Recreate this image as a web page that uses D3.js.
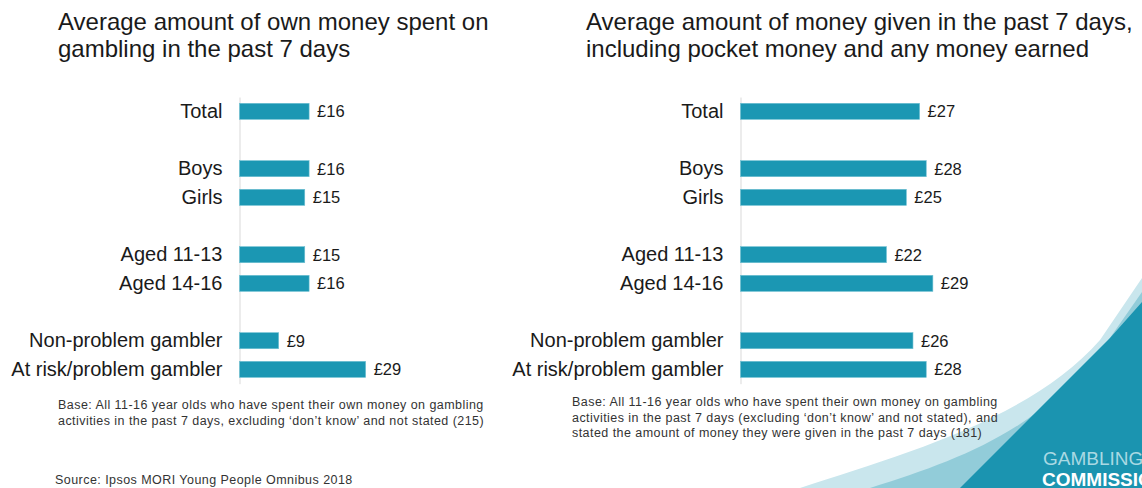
<!DOCTYPE html>
<html lang="en">
<head>
  <meta charset="UTF-8">
  <title>Gambling spend</title>
  <script src="https://d3js.org/d3.v7.min.js"></script>
  <style>
    body { margin: 0; background: #fff; font-family: "Liberation Sans", Arial, sans-serif; }
    svg { display: block; }
    .title { font-size: 24px; fill: #1a1a1a; }
    .note { font-size: 12.5px; fill: #333; letter-spacing: 0.45px; }
    .axis text { font-size: 20px; fill: #1a1a1a; font-family: "Liberation Sans", Arial, sans-serif; }
    .axis path { stroke: #d9d9d9; }
    .val { font-size: 16.5px; fill: #1a1a1a; }
  </style>
</head>
<body>
<svg width="1142" height="488"></svg>

<script>
  // slots: "" entries are empty gaps between groups
  const slots = ["Total", "", "Boys", "Girls", "", "Aged 11-13", "Aged 14-16", "", "Non-problem gambler", "At risk/problem gambler"];
  const categories = ["Total", "Boys", "Girls", "Aged 11-13", "Aged 14-16", "Non-problem gambler", "At risk/problem gambler"];
  const ownSpent = [16, 16, 15, 15, 16, 9, 29];
  const moneyGiven = [27, 28, 25, 22, 29, 26, 28];

  const svg = d3.select("svg");
  const barColor = "#1b97b3";

  // Logo shapes in bottom-right corner
  const logo = svg.append("g");
  logo.append("path")
    .attr("d", "M800,488 C900,455 1030,420 1100,340 L1142,278 L1142,488 Z")
    .attr("fill", "#c9e6ed");
  logo.append("path")
    .attr("d", "M870,488 C960,460 1040,430 1105,345 L1142,292 L1142,488 Z")
    .attr("fill", "#92ccd9");
  logo.append("path")
    .attr("d", "M960,488 L1110,338 L1142,302 L1142,488 Z")
    .attr("fill", "#1b94b0");
  logo.append("text")
    .attr("x", 1043).attr("y", 465)
    .attr("font-size", 19).attr("fill", "#a9d9e3")
    .text("GAMBLING");
  logo.append("text")
    .attr("x", 1042).attr("y", 486)
    .attr("font-size", 19).attr("font-weight", "bold").attr("fill", "#fff")
    .text("COMMISSION");

  function drawChart(x0, values, pxWidth, titleLines, titleX, notes, noteX, noteY) {
    const g = svg.append("g").attr("transform", `translate(${x0},0)`);

    const yScale = d3.scaleBand()
      .domain(slots.map((s, i) => s || "gap" + i))
      .range([97, 383.7])
      .paddingInner(0.44)
      .paddingOuter(0.22);

    const xScale = d3.scaleLinear().domain([0, 30]).range([0, pxWidth]);

    const axis = d3.axisLeft(yScale)
      .tickValues(categories)
      .tickSize(0)
      .tickPadding(17);

    g.append("g")
      .attr("class", "axis")
      .call(axis)
      .call(a => a.select(".domain").attr("stroke", "#d9d9d9"));

    g.selectAll("rect.bar")
      .data(values)
      .join("rect")
      .attr("class", "bar")
      .attr("x", 0)
      .attr("y", (d, i) => yScale(categories[i]))
      .attr("width", d => xScale(d))
      .attr("height", yScale.bandwidth())
      .attr("fill", barColor)
      .attr("stroke", "#6fc0d2")
      .attr("stroke-width", 0.6);

    g.selectAll("text.val")
      .data(values)
      .join("text")
      .attr("class", "val")
      .attr("x", d => xScale(d) + 8)
      .attr("y", (d, i) => yScale(categories[i]) + yScale.bandwidth() / 2)
      .attr("dy", "0.36em")
      .text(d => "£" + d);

    svg.append("text")
      .attr("class", "title")
      .selectAll("tspan")
      .data(titleLines)
      .join("tspan")
      .attr("x", titleX)
      .attr("y", (d, i) => 30 + i * 27)
      .text(d => d);

    svg.append("text")
      .attr("class", "note")
      .selectAll("tspan")
      .data(notes)
      .join("tspan")
      .attr("x", noteX)
      .attr("y", (d, i) => noteY + i * 15.5)
      .text(d => d);
  }

  drawChart(239.5, ownSpent, 130.5,
    ["Average amount of own money spent on", "gambling in the past 7 days"], 58,
    ["Base: All 11-16 year olds who have spent their own money on gambling",
     "activities in the past 7 days, excluding ‘don’t know’ and not stated (215)"], 58, 409);

  drawChart(740.5, moneyGiven, 199,
    ["Average amount of money given in the past 7 days,", "including pocket money and any money earned"], 586,
    ["Base: All 11-16 year olds who have spent their own money on gambling",
     "activities in the past 7 days (excluding ‘don’t know’ and not stated), and",
     "stated the amount of money they were given in the past 7 days (181)"], 572, 406);

  svg.append("text")
    .attr("class", "note")
    .attr("x", 55).attr("y", 484)
    .text("Source: Ipsos MORI Young People Omnibus 2018");
</script>
</body>
</html>
